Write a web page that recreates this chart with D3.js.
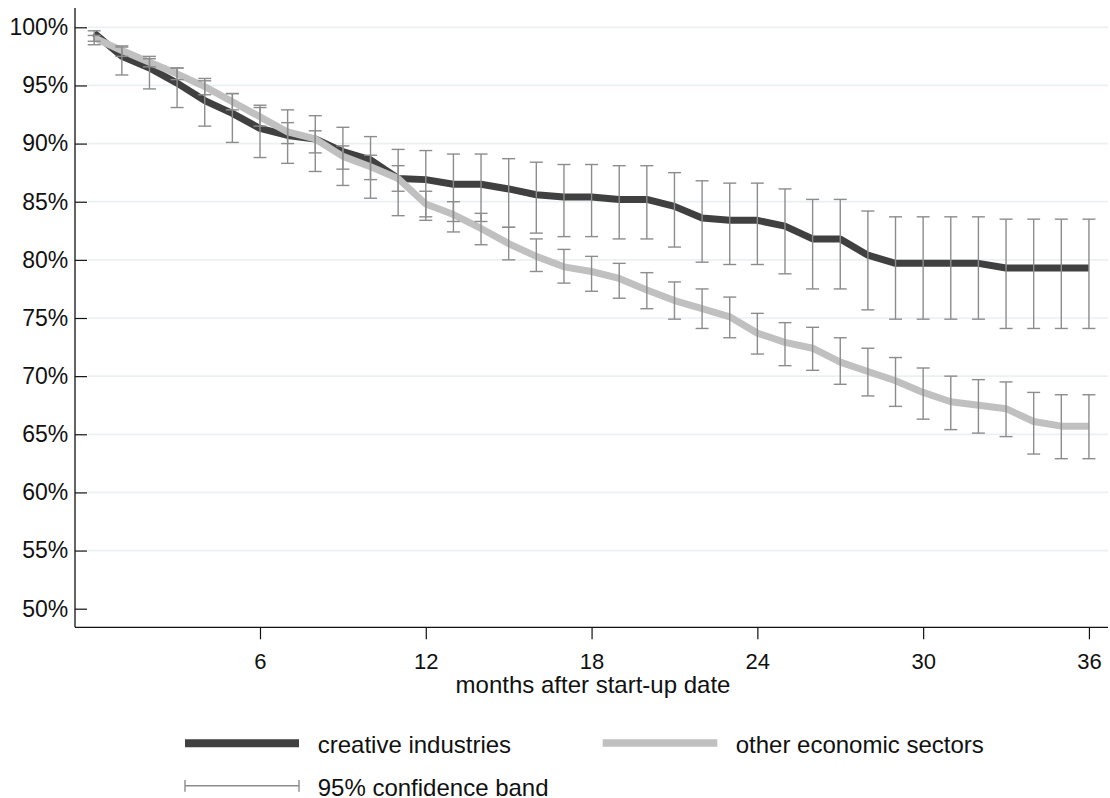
<!DOCTYPE html>
<html>
<head>
<meta charset="utf-8">
<script src="https://cdn.jsdelivr.net/npm/d3@7"></script>
<style>
  html, body { margin: 0; padding: 0; background: #fff; }
  svg { display: block; font-family: "Liberation Sans", Arial, sans-serif; }
</style>
</head>
<body>
<svg id="chart" width="1110" height="798"></svg>
<script>
// Months after start-up date
const months = [0, 1, 2, 3, 4, 5, 6, 7, 8, 9, 10, 11, 12, 13, 14, 15, 16, 17, 18,
                19, 20, 21, 22, 23, 24, 25, 26, 27, 28, 29, 30, 31, 32, 33, 34, 35, 36];

// Creative industries: survival (%) and 95% band
const creative   = [99.5, 97.5, 96.5, 95.2, 93.7, 92.6, 91.3, 90.7, 90.4, 89.3, 88.6, 87.0, 86.9, 86.5, 86.5, 86.1, 85.6, 85.4, 85.4,
                    85.2, 85.2, 84.6, 83.6, 83.4, 83.4, 82.9, 81.8, 81.8, 80.4, 79.7, 79.7, 79.7, 79.7, 79.3, 79.3, 79.3, 79.3];
const creativeLo = [98.5, 95.9, 94.7, 93.1, 91.5, 90.1, 88.8, 88.3, 87.6, 86.4, 85.3, 83.8, 83.4, 83.3, 83.3, 82.8, 82.3, 82.0, 82.0,
                    81.8, 81.8, 81.1, 79.8, 79.6, 79.6, 78.8, 77.5, 77.5, 75.7, 74.9, 74.9, 74.9, 74.9, 74.1, 74.1, 74.1, 74.1];
const creativeHi = [99.7, 98.3, 97.5, 96.5, 95.4, 94.3, 93.1, 92.9, 92.4, 91.4, 90.6, 89.5, 89.4, 89.1, 89.1, 88.7, 88.4, 88.2, 88.2,
                    88.1, 88.1, 87.5, 86.8, 86.6, 86.6, 86.1, 85.2, 85.2, 84.2, 83.7, 83.7, 83.7, 83.7, 83.5, 83.5, 83.5, 83.5];

// Other economic sectors: survival (%) and 95% band
const other   = [99.1, 98.0, 97.0, 96.0, 94.9, 93.6, 92.3, 91.0, 90.4, 88.9, 88.0, 87.0, 84.8, 83.9, 82.7, 81.4, 80.3, 79.4, 79.0,
                 78.4, 77.4, 76.5, 75.8, 75.1, 73.7, 72.9, 72.4, 71.2, 70.4, 69.6, 68.6, 67.8, 67.5, 67.2, 66.1, 65.7, 65.7];
const otherLo = [98.8, 97.5, 96.6, 95.5, 94.2, 92.9, 91.5, 90.0, 89.2, 87.8, 86.9, 85.9, 83.7, 82.4, 81.3, 80.0, 79.0, 78.0, 77.3,
                 76.7, 75.8, 74.9, 74.1, 73.3, 71.9, 70.9, 70.5, 69.3, 68.3, 67.4, 66.3, 65.4, 65.1, 64.8, 63.3, 62.9, 62.9];
const otherHi = [99.3, 98.4, 97.3, 96.5, 95.6, 94.3, 93.3, 91.8, 91.1, 89.8, 89.0, 88.1, 85.9, 85.0, 84.0, 82.8, 81.8, 80.9, 80.3,
                 79.7, 78.9, 78.1, 77.5, 76.8, 75.4, 74.6, 74.2, 73.3, 72.4, 71.6, 70.7, 70.0, 69.7, 69.5, 68.6, 68.4, 68.4];

const yTicks = [50, 55, 60, 65, 70, 75, 80, 85, 90, 95, 100];
const xTicks = [6, 12, 18, 24, 30, 36];
const seriesNames = ["creative industries", "other economic sectors", "95% confidence band"];

const svg = d3.select("#chart");
const plotLeft = 75, plotRight = 1108, plotTop = 8, plotBottom = 627.3;
const darkCol = "#404040", lightCol = "#c0c0c0", barCol = "#8c8c8c", gridCol = "#eaf1f3", inkCol = "#111";

const x = d3.scaleLinear().domain([-0.695, 36.69]).range([plotLeft, plotRight]);
const y = d3.scaleLinear().domain([48.4, 101.66]).range([plotBottom, plotTop]);

// Gridlines (not at 50%)
svg.append("g")
  .selectAll("line")
  .data(yTicks.filter(t => t > 50))
  .join("line")
  .attr("x1", plotLeft + 13).attr("x2", plotRight)
  .attr("y1", d => y(d)).attr("y2", d => y(d))
  .attr("stroke", gridCol).attr("stroke-width", 1.7);

// Axes
const yAxis = d3.axisLeft(y).tickValues(yTicks).tickFormat(d => d + "%").tickSize(-12).tickPadding(6.7);
const gy = svg.append("g").attr("transform", `translate(${plotLeft},0)`).call(yAxis);
gy.select(".domain").remove();
gy.selectAll(".tick line").attr("stroke", inkCol).attr("stroke-width", 1.2);
gy.selectAll("text").attr("fill", inkCol).style("font-size", "23px");

const xAxis = d3.axisBottom(x).tickValues(xTicks).tickSize(12).tickPadding(14.4);
const gx = svg.append("g").attr("transform", `translate(0,${plotBottom})`).call(xAxis);
gx.select(".domain").remove();
gx.selectAll(".tick line").attr("stroke", inkCol).attr("stroke-width", 1.2);
gx.selectAll("text").attr("fill", inkCol).style("font-size", "22px");

svg.append("line").attr("x1", plotLeft).attr("x2", plotLeft).attr("y1", plotTop).attr("y2", plotBottom)
  .attr("stroke", inkCol).attr("stroke-width", 1.3);
svg.append("line").attr("x1", plotLeft).attr("x2", plotRight).attr("y1", plotBottom).attr("y2", plotBottom)
  .attr("stroke", inkCol).attr("stroke-width", 1.3);

svg.append("text")
  .attr("x", 593).attr("y", 693.3)
  .attr("text-anchor", "middle")
  .attr("fill", inkCol)
  .style("font-size", "24px")
  .text("months after start-up date");

// Survival lines
const line = d3.line().x((d, i) => x(months[i])).y(d => y(d));
svg.append("path").datum(creative).attr("d", line)
  .attr("fill", "none").attr("stroke", darkCol).attr("stroke-width", 7)
  .attr("stroke-linejoin", "round");
svg.append("path").datum(other).attr("d", line)
  .attr("fill", "none").attr("stroke", lightCol).attr("stroke-width", 7)
  .attr("stroke-linejoin", "round");

// Confidence bars on top
function drawBars(lo, hi) {
  const g = svg.append("g").attr("stroke", barCol).attr("stroke-width", 1.4).attr("fill", "none");
  months.forEach((m, i) => {
    const cx = x(m);
    g.append("line").attr("x1", cx).attr("x2", cx).attr("y1", y(lo[i])).attr("y2", y(hi[i]));
    g.append("line").attr("x1", cx - 6.5).attr("x2", cx + 6.5).attr("y1", y(lo[i])).attr("y2", y(lo[i]));
    g.append("line").attr("x1", cx - 6.5).attr("x2", cx + 6.5).attr("y1", y(hi[i])).attr("y2", y(hi[i]));
  });
}
drawBars(creativeLo, creativeHi);
drawBars(otherLo, otherHi);

// Legend
const legend = svg.append("g").style("font-size", "24px").attr("fill", inkCol);
legend.append("line").attr("x1", 185).attr("x2", 299).attr("y1", 743.2).attr("y2", 743.2)
  .attr("stroke", darkCol).attr("stroke-width", 8);
legend.append("text").attr("x", 317.7).attr("y", 752.7).text(seriesNames[0]);
legend.append("line").attr("x1", 602.7).attr("x2", 717.3).attr("y1", 743).attr("y2", 743)
  .attr("stroke", lightCol).attr("stroke-width", 7.5);
legend.append("text").attr("x", 735.7).attr("y", 752.7).text(seriesNames[1]);
const ci = legend.append("g").attr("stroke", barCol).attr("stroke-width", 1.4);
ci.append("line").attr("x1", 185).attr("x2", 299).attr("y1", 785.7).attr("y2", 785.7);
ci.append("line").attr("x1", 185).attr("x2", 185).attr("y1", 780).attr("y2", 791.7);
ci.append("line").attr("x1", 299).attr("x2", 299).attr("y1", 780).attr("y2", 791.7);
legend.append("text").attr("x", 317.7).attr("y", 795.5).text(seriesNames[2]);
</script>
</body>
</html>
